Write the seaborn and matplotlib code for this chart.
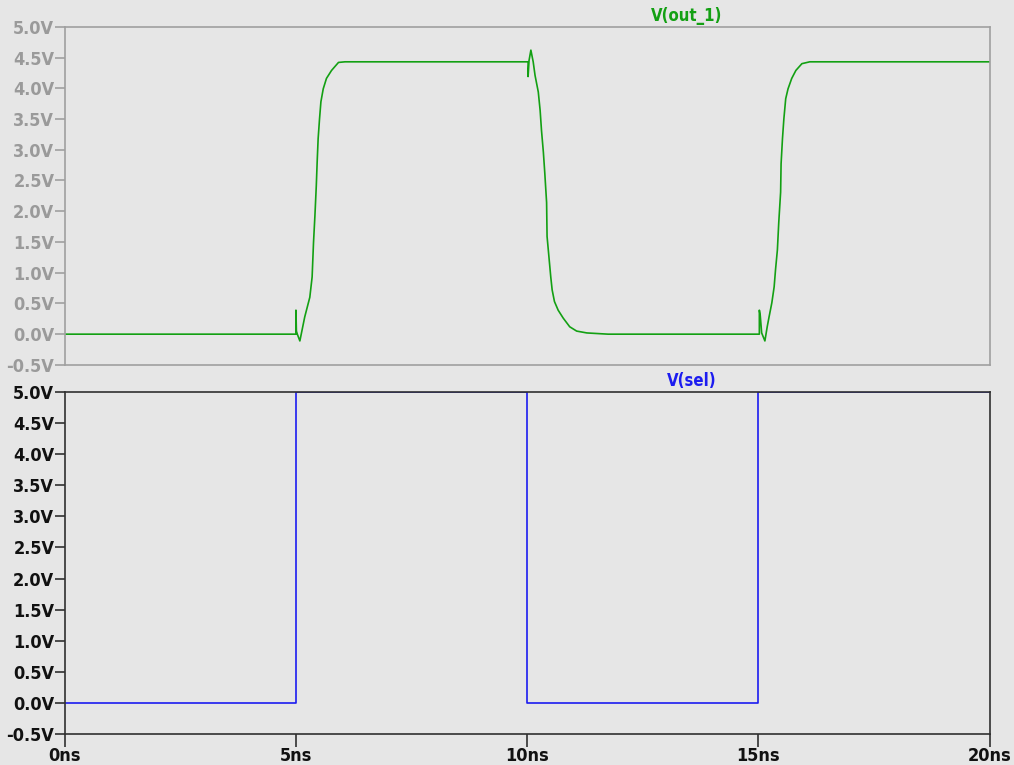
import matplotlib
matplotlib.use("Agg")
import matplotlib.pyplot as plt
from matplotlib import font_manager
import seaborn as sns
import pandas as pd

# ---- data ----
t_out = [0.0, 5.0, 5.0, 5.01, 5.03, 5.085, 5.19, 5.30, 5.35, 5.38, 5.41, 5.44, 5.46, 5.48, 5.51,
         5.54, 5.59, 5.66, 5.77, 5.92, 6.06,
         10.02, 10.02, 10.04, 10.08, 10.13, 10.17, 10.24, 10.28, 10.31, 10.35, 10.38, 10.42, 10.43,
         10.47, 10.51, 10.54, 10.59, 10.67, 10.78, 10.92, 11.07, 11.29, 11.75,
         15.02, 15.02, 15.04, 15.07, 15.14, 15.19, 15.23, 15.29, 15.34, 15.37, 15.41, 15.44, 15.48,
         15.49, 15.52, 15.55, 15.59, 15.64, 15.72, 15.81, 15.94, 16.11, 20.0]
v_out = [0.0, 0.0, 0.39, 0.05, 0.0, -0.11, 0.28, 0.60, 0.93, 1.49, 1.92, 2.41, 2.82, 3.18, 3.50,
         3.78, 3.99, 4.16, 4.29, 4.42, 4.43,
         4.43, 4.19, 4.45, 4.62, 4.43, 4.21, 3.94, 3.64, 3.31, 2.96, 2.63, 2.14, 1.59,
         1.26, 0.93, 0.72, 0.53, 0.39, 0.26, 0.12, 0.05, 0.02, 0.0,
         0.0, 0.39, 0.30, 0.02, -0.11, 0.12, 0.28, 0.51, 0.77, 1.05, 1.37, 1.82, 2.31,
         2.77, 3.18, 3.50, 3.83, 3.99, 4.16, 4.29, 4.40, 4.43, 4.43]

t_sel = [0, 5, 5, 10, 10, 15, 15, 20]
v_sel = [0, 0, 5, 5, 0, 0, 5, 5]

y_ticks = [-0.5, 0.0, 0.5, 1.0, 1.5, 2.0, 2.5, 3.0, 3.5, 4.0, 4.5, 5.0]
y_labels = ["-0.5V", "0.0V", "0.5V", "1.0V", "1.5V", "2.0V", "2.5V", "3.0V", "3.5V", "4.0V", "4.5V", "5.0V"]
x_ticks = [0, 5, 10, 15, 20]
x_labels = ["0ns", "5ns", "10ns", "15ns", "20ns"]

df_out = pd.DataFrame({"t": t_out, "v": v_out})
df_sel = pd.DataFrame({"t": t_sel, "v": v_sel})

# ---- style ----
BG = "#e6e6e6"
sns.set_theme(style="white", rc={"axes.facecolor": BG, "figure.facecolor": BG})
plt.rcParams["font.family"] = ["DejaVu Sans"]

# find a condensed bold face
fp = None
for f in font_manager.fontManager.ttflist:
    if f.name == "DejaVu Sans" and "ondensed" in f.fname and "Bold" in f.fname and "Oblique" not in f.fname:
        fp = font_manager.FontProperties(fname=f.fname)
        break
if fp is None:
    fp = font_manager.FontProperties(family="Liberation Sans", weight="bold")

def fprop(size):
    p = fp.copy()
    p.set_size(size)
    return p

fig = plt.figure(figsize=(10.14, 7.65), dpi=100)
left, right = 0.0638, 0.976
ax1 = fig.add_axes([left, 0.523, right - left, 0.965 - 0.523])
ax2 = fig.add_axes([left, 0.0405, right - left, 0.4876 - 0.0405])

sns.lineplot(data=df_out, x="t", y="v", ax=ax1, sort=False, estimator=None,
             color="#13a013", linewidth=1.2)
sns.lineplot(data=df_sel, x="t", y="v", ax=ax2, sort=False, estimator=None,
             color="#1c1cf0", linewidth=1.2)

for ax, col, tcol in [(ax1, "#a0a0a0", "#9a9a9a"), (ax2, "#303030", "#111111")]:
    ax.set_xlim(0, 20)
    ax.set_ylim(-0.5, 5.0)
    ax.set_yticks(y_ticks)
    ax.set_yticklabels(y_labels, fontproperties=fprop(13), color=tcol)
    ax.set_xlabel("")
    ax.set_ylabel("")
    for s in ax.spines.values():
        s.set_color(col)
        s.set_linewidth(1.2)
        s.set_visible(True)
    ax.tick_params(axis="y", direction="out", length=7, width=1.2, color=col, pad=0.5, left=True)

ax1.set_xticks(x_ticks)
ax1.tick_params(axis="x", bottom=False, labelbottom=False)
ax2.set_xticks(x_ticks)
ax2.set_xticklabels(x_labels, fontproperties=fprop(13), color="#111111")
ax2.tick_params(axis="x", direction="out", length=9, width=1.2, color="#303030", pad=0, bottom=True)

ax1.text(0.672, 1.005, "V(out_1)", transform=ax1.transAxes, ha="center", va="bottom",
         fontproperties=fprop(12), color="#13a013")
ax2.text(0.678, 1.005, "V(sel)", transform=ax2.transAxes, ha="center", va="bottom",
         fontproperties=fprop(12), color="#1c1cf0")

fig.savefig("out.png", dpi=100, facecolor=BG)
